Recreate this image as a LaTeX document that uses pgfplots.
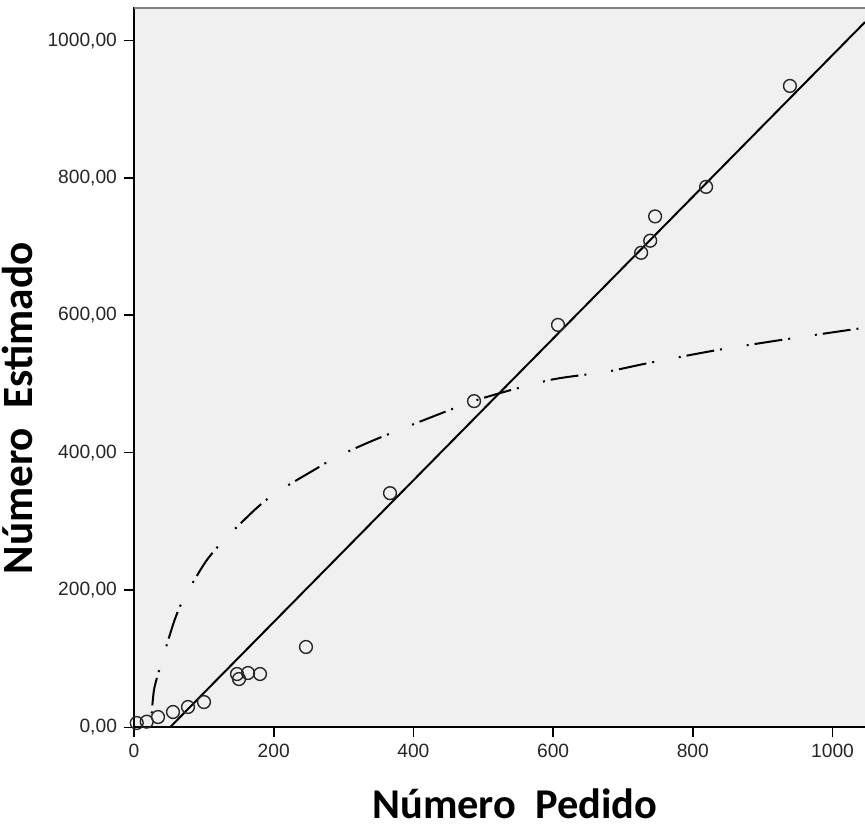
\documentclass[border=0pt]{standalone}
\usepackage{fontspec}
\setmainfont{Liberation Sans}
\newfontfamily\calibri{Carlito}
\usepackage{pgfplots}
\pgfplotsset{compat=1.18}
\definecolor{plotbg}{HTML}{F0F0F0}

\begin{document}
\begin{tikzpicture}
\begin{axis}[
    at={(0,0)}, anchor=origin,
    scale only axis, width=365.5pt, height=360pt,
    xmin=0, xmax=1046.5, ymin=0, ymax=1048.5,
    axis x line*=bottom, axis y line*=left,
    axis line style={black, line width=0.9pt},
    axis background/.style={fill=plotbg},
    xtick={0,200,...,1000}, ytick={0,200,...,1000},
    tick align=outside, major tick length=5pt,
    tick style={black, line width=0.8pt},
    /pgf/number format/assume math mode=true,
    ticklabel style={font=\fontsize{9.6}{11}\selectfont, text=black!85},
    x tick label style={/pgf/number format/1000 sep={}},
    y tick label style={/pgf/number format/.cd, fixed, fixed zerofill, precision=2, use comma, 1000 sep={}},
    clip=true,
]
% logarithmic fit
\addplot[black, line width=1pt, smooth, tension=0.4,
    dash pattern=on 1pt off 3pt on 14pt off 3pt on 1pt off 12.5pt, dash phase=27pt]
    coordinates {
    (20.0,0) (23.9,6.3) (28.6,54.3) (38.2,90.7) (57.3,153.8) (71.6,188.3)
    (102.6,241.2) (128.8,272.8) (174.2,318) (202.9,341.4) (257.7,374.7)
    (290.6,394) (350.8,421.3) (486.8,475.2) (595.6,505.8) (676.7,517.8)
    (739,531) (836.1,549.6) (936.3,565.6) (1036.5,580.5) (1060,583.5)
    };
% linear fit
\addplot[black, line width=1pt] coordinates {(51.5,0) (1046.5,1027)};
% observed
\addplot[only marks, mark=o, mark size=3.2pt, mark options={black!85, line width=0.7pt}]
    coordinates {
    (3.9,6.3) (18.2,8.2) (34.4,15) (55.8,22.3) (77.3,29.6) (100.2,36.8)
    (147.5,77.6) (150.3,70.3) (163.2,79.1) (180.4,77.6) (246.2,117)
    (366.5,341) (486.8,475) (607,586) (726,691) (739,708.6) (746,744)
    (819,787) (939,934)
    };
\draw[black!50, line width=1.3pt] (rel axis cs:0,1) -- (rel axis cs:1,1);
\end{axis}
\node[anchor=base, font=\calibri\bfseries\fontsize{21.2}{25}\selectfont] at (190.4pt,-45.35pt) {Número\ \ Pedido};
\node[anchor=base, rotate=90, font=\calibri\bfseries\fontsize{21.6}{25}\selectfont] at (-50.5pt,159.5pt) {Número\ \ Estimado};
\pgfresetboundingbox
\useasboundingbox (-67pt,-49.35pt) rectangle (365.5pt,363.65pt);
\end{tikzpicture}
\end{document}
